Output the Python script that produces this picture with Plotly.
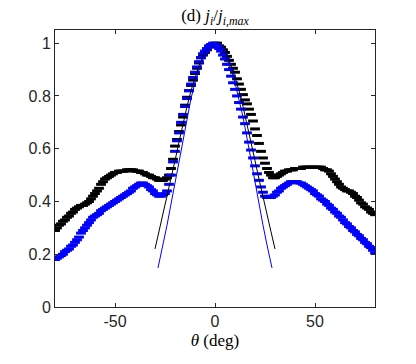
import plotly.graph_objects as go

# Angles (deg) pour les mesures, pas de 1 degre
theta = list(range(-80, 81))

# Serie noire (j_i / j_i,max)
j_black = [
    0.29, 0.30, 0.31, 0.315, 0.325, 0.33, 0.34, 0.345, 0.355, 0.36,
    0.37, 0.375, 0.38, 0.385, 0.385, 0.39, 0.395, 0.40, 0.41, 0.42,
    0.43, 0.44, 0.45, 0.465, 0.475, 0.485, 0.49, 0.495, 0.50, 0.505,
    0.51, 0.51, 0.515, 0.515, 0.515, 0.515, 0.52, 0.52, 0.52, 0.52,
    0.515, 0.515, 0.515, 0.51, 0.51, 0.505, 0.50, 0.50, 0.495, 0.49,
    0.49, 0.485, 0.48, 0.48, 0.48, 0.485, 0.49, 0.50, 0.525, 0.56,
    0.61, 0.635, 0.665, 0.69, 0.72, 0.765, 0.795, 0.82, 0.84, 0.86,
    0.885, 0.905, 0.925, 0.945, 0.955, 0.965, 0.975, 0.985, 0.99, 0.995,
    1.0, 1.0, 0.99, 0.985, 0.975, 0.965, 0.95, 0.935, 0.92, 0.905,
    0.89, 0.865, 0.845, 0.825, 0.805, 0.785, 0.77, 0.75, 0.73, 0.705,
    0.675, 0.65, 0.62, 0.59, 0.565, 0.545, 0.525, 0.51, 0.50, 0.49,
    0.49, 0.495, 0.50, 0.505, 0.51, 0.515, 0.515, 0.52, 0.52, 0.52,
    0.525, 0.525, 0.525, 0.525, 0.53, 0.53, 0.53, 0.53, 0.53, 0.53,
    0.53, 0.53, 0.53, 0.53, 0.525, 0.52, 0.52, 0.515, 0.505, 0.495,
    0.485, 0.475, 0.465, 0.455, 0.45, 0.445, 0.44, 0.44, 0.435, 0.43,
    0.42, 0.415, 0.405, 0.395, 0.39, 0.38, 0.375, 0.37, 0.36, 0.355,
    0.35,
]

# Serie bleue
j_blue = [
    0.18, 0.185, 0.19, 0.195, 0.20, 0.21, 0.215, 0.22, 0.23, 0.235,
    0.245, 0.255, 0.265, 0.28, 0.29, 0.30, 0.31, 0.32, 0.33, 0.34,
    0.345, 0.35, 0.355, 0.365, 0.37, 0.375, 0.38, 0.385, 0.39, 0.395,
    0.40, 0.405, 0.41, 0.415, 0.42, 0.425, 0.43, 0.435, 0.44, 0.45,
    0.455, 0.46, 0.465, 0.47, 0.47, 0.465, 0.46, 0.455, 0.445, 0.44,
    0.43, 0.425, 0.42, 0.42, 0.425, 0.43, 0.44, 0.465, 0.50, 0.55,
    0.59, 0.63, 0.66, 0.70, 0.73, 0.76, 0.79, 0.82, 0.845, 0.87,
    0.89, 0.91, 0.93, 0.945, 0.96, 0.97, 0.98, 0.99, 0.995, 1.0,
    0.995, 0.99, 0.98, 0.97, 0.955, 0.94, 0.92, 0.90, 0.875, 0.85,
    0.825, 0.80, 0.775, 0.75, 0.72, 0.695, 0.66, 0.625, 0.595, 0.565,
    0.535, 0.505, 0.48, 0.455, 0.435, 0.42, 0.415, 0.415, 0.415, 0.42,
    0.425, 0.435, 0.44, 0.45, 0.455, 0.46, 0.465, 0.47, 0.475, 0.475,
    0.475, 0.475, 0.47, 0.47, 0.465, 0.46, 0.455, 0.45, 0.445, 0.44,
    0.43, 0.425, 0.42, 0.41, 0.405, 0.40, 0.39, 0.385, 0.375, 0.37,
    0.36, 0.355, 0.345, 0.34, 0.33, 0.32, 0.315, 0.305, 0.30, 0.29,
    0.285, 0.275, 0.27, 0.26, 0.255, 0.245, 0.24, 0.23, 0.225, 0.215,
    0.205,
]

# Courbes fines (modeles)
theta_fit_black = [-30, -28, -26, -24, -22, -20, -18, -16, -14, -12, -10, -8, -6, -4, -2, 0,
                   2, 4, 6, 8, 10, 12, 14, 16, 18, 20, 22, 24, 26, 28, 30]
fit_black = [0.22, 0.285, 0.35, 0.415, 0.485, 0.555, 0.625, 0.695, 0.76, 0.82, 0.87, 0.915, 0.95, 0.975, 0.99, 1.0,
             0.99, 0.975, 0.95, 0.915, 0.87, 0.82, 0.76, 0.695, 0.625, 0.555, 0.485, 0.415, 0.35, 0.285, 0.22]

theta_fit_blue = [-28.5, -28, -26, -24, -22, -20, -18, -16, -14, -12, -10, -8, -6, -4, -2, 0,
                  2, 4, 6, 8, 10, 12, 14, 16, 18, 20, 22, 24, 26, 28, 28.5]
fit_blue = [0.148, 0.165, 0.235, 0.31, 0.39, 0.47, 0.555, 0.64, 0.72, 0.79, 0.85, 0.90, 0.94, 0.97, 0.99, 1.0,
            0.99, 0.97, 0.94, 0.90, 0.85, 0.79, 0.72, 0.64, 0.555, 0.47, 0.39, 0.31, 0.235, 0.165, 0.148]

fig = go.Figure()

fig.add_trace(go.Scatter(
    x=theta, y=j_black, mode="markers",
    marker=dict(symbol="line-ew", size=7, line=dict(width=3, color="black")),
    showlegend=False,
))
fig.add_trace(go.Scatter(
    x=theta, y=j_blue, mode="markers",
    marker=dict(symbol="line-ew", size=7, line=dict(width=3, color="#0000ff")),
    showlegend=False,
))
fig.add_trace(go.Scatter(
    x=theta_fit_black, y=fit_black, mode="lines",
    line=dict(color="black", width=1), showlegend=False,
))
fig.add_trace(go.Scatter(
    x=theta_fit_blue, y=fit_blue, mode="lines",
    line=dict(color="#0000ff", width=1), showlegend=False,
))

serif = "Liberation Serif, DejaVu Serif, serif"

# la page a une marge de 8 px en haut et a gauche : on la compense
fig.update_layout(
    width=408, height=356,
    margin=dict(l=47, r=41, t=22, b=57),
    paper_bgcolor="white", plot_bgcolor="white",
    font=dict(family="Liberation Sans, Arial, sans-serif", size=16, color="#262626"),
    title=dict(
        text="(d) <i>j<sub>i</sub></i>/<i>j<sub>i,max</sub></i>",
        x=0.5, xref="paper", xanchor="center",
        y=0.98, yref="container", yanchor="middle",
        font=dict(family=serif, size=17, color="black"),
    ),
)

fig.update_xaxes(
    range=[-80, 80], tickvals=[-50, 0, 50], ticktext=["-50", "0", "50"],
    ticks="inside", ticklen=4, tickcolor="#262626",
    showline=True, linecolor="#262626", linewidth=1, mirror="ticks",
    showgrid=False, zeroline=False,
    title=dict(text="<i>θ</i> (deg)", font=dict(family=serif, size=17, color="black"), standoff=4),
)
fig.update_yaxes(
    range=[0, 1.05], tickvals=[0, 0.2, 0.4, 0.6, 0.8, 1], ticktext=["0", "0.2", "0.4", "0.6", "0.8", "1"],
    ticks="inside", ticklen=4, tickcolor="#262626",
    showline=True, linecolor="#262626", linewidth=1, mirror="ticks",
    showgrid=False, zeroline=False,
)

fig.write_html("out.html")
